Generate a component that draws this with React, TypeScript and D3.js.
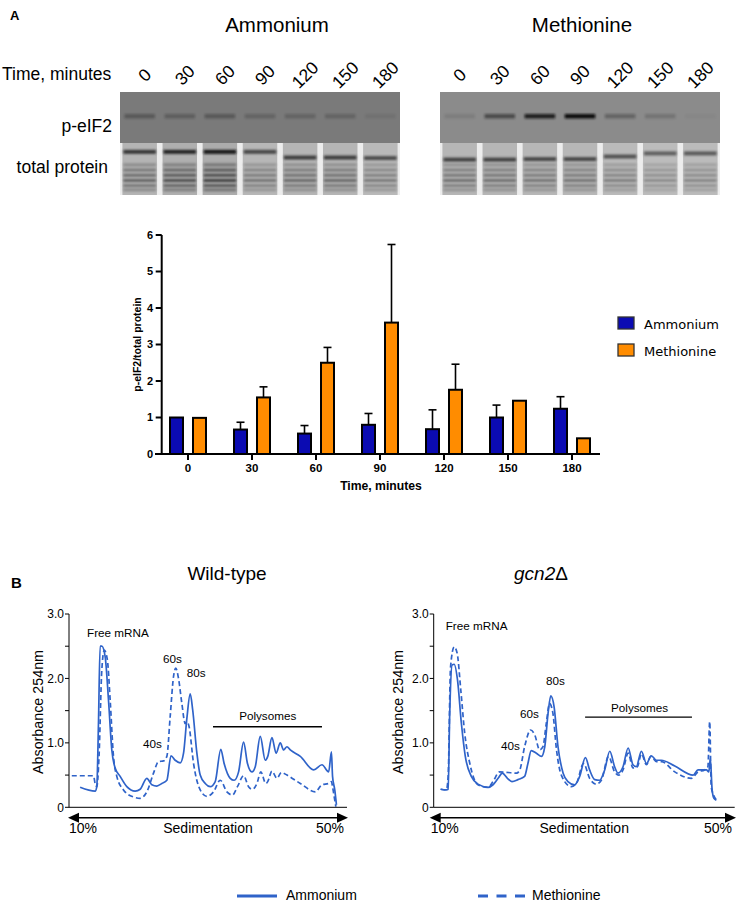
import React from "react";
import * as d3 from "d3";

// ---- panel A data ----
const timePoints = ["0", "30", "60", "90", "120", "150", "180"];
const ammoniumMean = [1.0, 0.67, 0.56, 0.8, 0.68, 1.0, 1.24];
const ammoniumErr = [0, 0.2, 0.22, 0.31, 0.53, 0.34, 0.33];
const methionineMean = [0.99, 1.55, 2.5, 3.6, 1.76, 1.46, 0.43];
const methionineErr = [0, 0.29, 0.42, 2.14, 0.7, 0, 0];
const yTicks = [0, 1, 2, 3, 4, 5, 6];

// blot band intensities (0..1), read by eye
const phosAmmonium = [0.3, 0.25, 0.3, 0.2, 0.2, 0.2, 0.08];
const phosMethionine = [0.1, 0.5, 0.85, 1.0, 0.3, 0.18, 0.03];
const loadAmmonium = [0.65, 0.85, 1.0, 0.5, 0.6, 0.6, 0.45];
const loadMethionine = [0.55, 0.55, 0.5, 0.5, 0.4, 0.28, 0.33];
const shiftAmmonium = [0, 0, 0, 0, 0.11, 0.11, 0.12];
const shiftMethionine = [0.15, 0.15, 0.14, 0.14, 0.09, 0.03, 0.03];
const proteinBandPos = [0.42, 0.52, 0.62, 0.72, 0.82, 0.9];
const proteinBandWeight = [0.35, 0.45, 0.5, 0.55, 0.45, 0.35];

// ---- panel B data: [position along gradient (%), A254] ----
const wtAmmonium: [number, number][] = [
  [4.0, 0.31], [9.4, 0.25], [10.0, 0.32], [10.6, 1.3], [11.2, 2.5], [11.8, 2.5], [13.0, 2.34],
  [14.2, 1.67], [15.4, 0.89], [16.6, 0.61], [18.4, 0.48], [20.8, 0.32], [23.8, 0.25], [25.6, 0.28],
  [28.0, 0.45], [29.8, 0.35], [31.6, 0.33], [33.4, 0.37], [35.2, 0.42], [36.7, 0.8], [38.2, 0.73],
  [40.0, 0.69], [41.2, 0.84], [42.4, 1.38], [43.6, 1.76], [44.5, 1.51], [46.0, 0.84], [47.2, 0.5],
  [49.0, 0.37], [50.8, 0.32], [52.6, 0.4], [54.6, 0.9], [55.8, 0.68], [58.0, 0.45], [59.4, 0.42],
  [61.0, 0.55], [62.8, 1.01], [64.2, 0.68], [65.8, 0.55], [67.0, 0.63], [68.8, 1.1], [70.6, 0.73],
  [71.5, 0.79], [73.0, 1.08], [74.5, 0.84], [76.0, 1.0], [77.2, 0.89], [78.4, 0.94], [79.6, 0.89],
  [83.2, 0.79], [88.0, 0.58], [91.0, 0.66], [93.4, 0.55], [94.4, 0.86], [94.8, 0.48], [95.6, 0.27],
  [96.2, 0.04],
];
const wtMethionine: [number, number][] = [
  [1.0, 0.49], [8.8, 0.49], [9.4, 0.37], [10.0, 0.32], [10.8, 0.79], [11.8, 2.13], [12.7, 2.44],
  [13.8, 2.29], [14.8, 1.67], [16.0, 0.79], [17.2, 0.48], [19.6, 0.27], [23.2, 0.16], [25.6, 0.14],
  [28.0, 0.24], [30.4, 0.53], [32.2, 0.71], [34.0, 0.72], [35.2, 0.79], [36.4, 1.41], [37.6, 2.03],
  [38.4, 2.16], [39.4, 2.0], [40.6, 1.61], [41.8, 1.3], [42.4, 1.33], [43.2, 1.25], [44.8, 0.68],
  [47.2, 0.27], [49.6, 0.17], [52.0, 0.24], [54.4, 0.42], [56.8, 0.24], [58.8, 0.19], [60.6, 0.32],
  [62.8, 0.49], [64.6, 0.32], [66.0, 0.28], [67.6, 0.37], [69.0, 0.55], [70.8, 0.37], [71.5, 0.4],
  [73.0, 0.56], [74.8, 0.45], [76.4, 0.54], [78.4, 0.5], [83.2, 0.37], [88.6, 0.24], [91.0, 0.35],
  [93.4, 0.37], [94.4, 0.4], [94.8, 0.32], [95.6, 0.11], [96.0, 0.01],
];
const gcnAmmonium: [number, number][] = [
  [2.3, 0.28], [4.2, 0.27], [4.8, 0.28], [5.3, 1.41], [6.1, 2.21], [6.8, 2.22], [7.9, 1.98],
  [9.2, 1.3], [10.5, 0.79], [12.5, 0.48], [14.7, 0.36], [18.1, 0.31], [19.7, 0.35], [21.4, 0.45],
  [22.8, 0.53], [24.5, 0.45], [26.0, 0.4], [28.0, 0.43], [30.2, 0.48], [31.3, 0.68], [32.4, 0.88],
  [34.1, 0.84], [35.8, 0.79], [36.9, 0.94], [38.0, 1.46], [38.9, 1.73], [40.0, 1.56], [41.3, 0.94],
  [43.0, 0.53], [44.6, 0.4], [46.8, 0.35], [48.5, 0.48], [50.4, 0.77], [51.8, 0.58], [53.5, 0.43],
  [55.1, 0.42], [56.8, 0.58], [58.5, 0.87], [60.1, 0.63], [61.2, 0.53], [62.9, 0.63], [64.6, 0.92],
  [66.2, 0.66], [67.3, 0.63], [69.0, 0.87], [70.7, 0.68], [72.3, 0.8], [74.0, 0.73], [75.6, 0.73],
  [80.1, 0.64], [86.2, 0.5], [87.8, 0.58], [88.9, 0.58], [90.6, 0.58], [91.4, 0.55], [91.9, 0.76],
  [92.5, 0.27], [93.1, 0.14], [93.9, 0.11],
];
const gcnMethionine: [number, number][] = [
  [2.3, 0.28], [4.2, 0.27], [4.8, 0.48], [5.6, 2.18], [6.8, 2.49], [7.8, 2.39], [9.0, 1.82],
  [10.3, 1.15], [12.0, 0.68], [14.7, 0.35], [18.1, 0.31], [19.7, 0.4], [21.9, 0.55], [24.7, 0.54],
  [27.5, 0.53], [28.6, 0.58], [30.2, 0.94], [32.2, 1.2], [33.6, 1.12], [35.2, 0.89], [36.3, 0.94],
  [37.4, 1.3], [38.5, 1.61], [39.6, 1.46], [40.8, 0.89], [42.4, 0.5], [45.7, 0.32], [47.4, 0.37],
  [49.8, 0.68], [51.8, 0.45], [54.0, 0.36], [55.7, 0.42], [58.1, 0.79], [60.1, 0.55], [61.5, 0.5],
  [62.9, 0.58], [64.6, 0.84], [66.2, 0.61], [67.7, 0.63], [69.0, 0.83], [70.7, 0.66], [72.1, 0.79],
  [74.0, 0.71], [75.6, 0.71], [80.1, 0.55], [85.6, 0.45], [87.8, 0.55], [90.0, 0.58], [91.1, 0.63],
  [91.7, 1.33], [92.2, 0.32], [93.0, 0.19], [94.5, 0.09],
];

// peak labels [text, x %, A254 baseline]
const wtNotes: [string, number, number][] = [
  ["Free mRNA", 6.5, 2.64], ["60s", 33.8, 2.24], ["80s", 42.4, 2.02], ["40s", 26.6, 0.92], ["Polysomes", 61.2, 1.36],
];
const gcnNotes: [string, number, number][] = [
  ["Free mRNA", 4.0, 2.75], ["80s", 37.3, 1.9], ["60s", 28.7, 1.39], ["40s", 22.4, 0.89], ["Polysomes", 58.9, 1.48],
];
const wtPolyBar = [51.8, 91.0, 1.25];
const gcnPolyBar = [50.3, 85.8, 1.4];

const BLUE = "#0b0bb2";
const ORANGE = "#ff8c00";
const TRACE = "#2f63c9";
const SANS = "'Liberation Sans', Arial, sans-serif";

function Blot({ x0, x1, phosBg, phos, load, shift, labelDx }) {
  const top = 92, mid = 143, bottom = 195;
  const lanes = d3.scaleBand<string>().domain(timePoints).range([x0, x1]).paddingInner(0.14).paddingOuter(0.06);
  const h = bottom - mid;
  const ink = d3.interpolateRgb("#d2d2d2", "#141414");
  return (
    <g>
      <rect x={x0} y={top} width={x1 - x0} height={mid - top} fill={phosBg} />
      {timePoints.map((t, i) => (
        <rect key={"p" + t} x={lanes(t)! + 2} y={114} width={lanes.bandwidth() - 4} height={4.5}
          fill="#111" opacity={phos[i]} filter="url(#soft)" />
      ))}
      <rect x={x0} y={mid} width={x1 - x0} height={h} fill="#ededed" />
      {timePoints.map((t, i) => {
        const lx = lanes(t)!;
        const w = lanes.bandwidth();
        return (
          <g key={"t" + t}>
            <rect x={lx} y={mid} width={w} height={h} fill={ink(0.08 + 0.12 * load[i])} />
            <rect x={lx + 1} y={mid + h * (0.17 + shift[i]) - 2} width={w - 2} height={4}
              fill={ink(0.45 + 0.55 * load[i])} filter="url(#soft)" />
            {proteinBandPos.map((p, k) => (
              <rect key={k} x={lx + 1} y={mid + h * p - 1.5} width={w - 2} height={3}
                fill={ink(Math.min(1, proteinBandWeight[k] * (0.4 + load[i])))} filter="url(#soft)" />
            ))}
          </g>
        );
      })}
      {timePoints.map((t) => {
        const cx = lanes(t)! + lanes.bandwidth() / 2 + labelDx;
        return (
          <text key={"l" + t} transform={`translate(${cx},75) rotate(-45)`} textAnchor="middle"
            dominantBaseline="central" fontSize={17.5} fontFamily={SANS}>{t}</text>
        );
      })}
    </g>
  );
}

function BarChart() {
  const x = d3.scaleBand<string>().domain(timePoints).range([156, 604]);
  const y = d3.scaleLinear().domain([0, 6]).range([454, 235]);
  const axisX = 161.7;
  const bw = 13;
  const series = [
    { name: "Ammonium", color: BLUE, mean: ammoniumMean, err: ammoniumErr, dx: -11.5 },
    { name: "Methionine", color: ORANGE, mean: methionineMean, err: methionineErr, dx: 11.5 },
  ];
  return (
    <g fontFamily={SANS}>
      {series.map((s) =>
        timePoints.map((t, i) => {
          const cx = x(t)! + x.bandwidth() / 2 + s.dx;
          const top = y(s.mean[i]);
          const hi = y(s.mean[i] + s.err[i]);
          return (
            <g key={s.name + t}>
              {s.err[i] > 0 && (
                <>
                  <line x1={cx} x2={cx} y1={top} y2={hi} stroke="#000" strokeWidth={1.6} />
                  <line x1={cx - 4} x2={cx + 4} y1={hi} y2={hi} stroke="#000" strokeWidth={1.6} />
                </>
              )}
              <rect x={cx - bw / 2} y={top} width={bw} height={y(0) - top} fill={s.color} stroke="#000" strokeWidth={2} />
            </g>
          );
        })
      )}
      <line x1={axisX} x2={axisX} y1={y(6)} y2={y(0)} stroke="#000" strokeWidth={2} />
      <line x1={155} x2={600} y1={y(0)} y2={y(0)} stroke="#000" strokeWidth={2} />
      {yTicks.map((t) => (
        <g key={t}>
          <line x1={axisX - 6} x2={axisX} y1={y(t)} y2={y(t)} stroke="#000" strokeWidth={2} />
          <text x={153} y={y(t)} dy="0.36em" textAnchor="end" fontSize={11} fontWeight="bold">{t}</text>
        </g>
      ))}
      {timePoints.map((t) => {
        const cx = x(t)! + x.bandwidth() / 2;
        return (
          <g key={t}>
            <line x1={cx} x2={cx} y1={y(0)} y2={y(0) + 6} stroke="#000" strokeWidth={2} />
            <text x={cx} y={472} textAnchor="middle" fontSize={11.5} fontWeight="bold">{t}</text>
          </g>
        );
      })}
      <text transform={`translate(141,${(y(0) + y(6)) / 2}) rotate(-90)`} textAnchor="middle" fontSize={10.5} fontWeight="bold">
        p-eIF2/total protein
      </text>
      <text x={381} y={490} textAnchor="middle" fontSize={12.2} fontWeight="bold">Time, minutes</text>
      {series.map((s, i) => (
        <g key={s.name} transform={`translate(618,${317 + i * 27})`}>
          <rect width={16} height={12} fill={s.color} stroke="#333" strokeWidth={1.3} />
          <text x={26} y={11.5} fontSize={13} fontFamily="'DejaVu Sans', Verdana, sans-serif">{s.name}</text>
        </g>
      ))}
    </g>
  );
}

function Profile({ x0, x1, a0, a1, solid, dashed, notes, poly, labelX, title, titleX, italic }) {
  const x = d3.scaleLinear().domain([0, 100]).range([x0, x1]);
  const y = d3.scaleLinear().domain([0, 3]).range([807.3, 614]);
  const line = d3.line<[number, number]>().x((d) => x(d[0])).y((d) => y(d[1])).curve(d3.curveMonotoneX);
  const minor = d3.range(0, 3.01, 0.5);
  const ay = 817.7;
  return (
    <g fontFamily={SANS}>
      {italic ? (
        <text x={titleX} y={580} textAnchor="middle" fontSize={19}>
          <tspan fontStyle="italic">{title}</tspan>Δ
        </text>
      ) : (
        <text x={titleX} y={580} textAnchor="middle" fontSize={19}>{title}</text>
      )}
      <path d={line(dashed)!} fill="none" stroke={TRACE} strokeWidth={1.7} strokeDasharray="5,3" />
      <path d={line(solid)!} fill="none" stroke={TRACE} strokeWidth={1.7} />
      <line x1={x0} x2={x0} y1={y(3)} y2={y(0)} stroke="#000" strokeWidth={1} />
      <line x1={x0} x2={x1} y1={y(0)} y2={y(0)} stroke="#000" strokeWidth={1} />
      {minor.map((t) => (
        <line key={t} x1={x0 - 4} x2={x0} y1={y(t)} y2={y(t)} stroke="#000" strokeWidth={1} />
      ))}
      {[0, 1, 2, 3].map((t) => (
        <text key={t} x={x0 - 5} y={y(t)} dy="0.36em" textAnchor="end" fontSize={12}>
          {t === 0 ? "0" : t.toFixed(1)}
        </text>
      ))}
      <text transform={`translate(${labelX},712) rotate(-90)`} textAnchor="middle" fontSize={14.3}>Absorbance 254nm</text>
      {notes.map(([s, nx, ny]) => (
        <text key={s} x={x(nx)} y={y(ny)} fontSize={11.7}>{s}</text>
      ))}
      <line x1={x(poly[0])} x2={x(poly[1])} y1={y(poly[2])} y2={y(poly[2])} stroke="#000" strokeWidth={1.3} />
      <line x1={a0 + 8} x2={a1 - 8} y1={ay} y2={ay} stroke="#000" strokeWidth={1.6} />
      <path d={`M${a0},${ay}L${a0 + 11},${ay - 5}L${a0 + 11},${ay + 5}Z`} fill="#000" />
      <path d={`M${a1},${ay}L${a1 - 11},${ay - 5}L${a1 - 11},${ay + 5}Z`} fill="#000" />
      <text x={a0 + 1} y={833} fontSize={14}>10%</text>
      <text x={(x0 + x1) / 2} y={833} textAnchor="middle" fontSize={14}>Sedimentation</text>
      <text x={a1 - 4} y={833} textAnchor="end" fontSize={14}>50%</text>
    </g>
  );
}

export default function App() {
  return (
    <svg width={738} height={903} style={{ position: "absolute", left: 0, top: 0, background: "#fff" }}>
      <defs>
        <filter id="soft" x="-10%" y="-150%" width="120%" height="400%">
          <feGaussianBlur stdDeviation="0.9" />
        </filter>
      </defs>
      <rect width={738} height={903} fill="#fff" />
      <g fontFamily={SANS}>
        <text x={10} y={20} fontSize={13} fontWeight="bold">A</text>
        <text x={277} y={32} textAnchor="middle" fontSize={20.5}>Ammonium</text>
        <text x={582} y={32} textAnchor="middle" fontSize={20.5}>Methionine</text>
        <text x={2} y={80} fontSize={17.5}>Time, minutes</text>
        <text x={112} y={132} textAnchor="end" fontSize={17.5}>p-eIF2</text>
        <text x={108} y={173} textAnchor="end" fontSize={17.5}>total protein</text>
      </g>
      <Blot x0={120} x1={400} phosBg="#7a7a7a" phos={phosAmmonium} load={loadAmmonium} shift={shiftAmmonium} labelDx={5} />
      <Blot x0={440} x1={720} phosBg="#8b8b8b" phos={phosMethionine} load={loadMethionine} shift={shiftMethionine} labelDx={0} />
      <BarChart />
      <text x={11} y={588} fontSize={15} fontWeight="bold" fontFamily={SANS}>B</text>
      <Profile x0={69} x1={347} a0={68} a1={348} solid={wtAmmonium} dashed={wtMethionine} notes={wtNotes}
        poly={wtPolyBar} labelX={43} title="Wild-type" titleX={227} italic={false} />
      <Profile x0={433.7} x1={734.7} a0={429.7} a1={736} solid={gcnAmmonium} dashed={gcnMethionine} notes={gcnNotes}
        poly={gcnPolyBar} labelX={403} title="gcn2" titleX={541} italic={true} />
      <g fontFamily={SANS}>
        <line x1={237} x2={277} y1={896} y2={896} stroke={TRACE} strokeWidth={3} />
        <text x={286} y={900} fontSize={14}>Ammonium</text>
        <line x1={478} x2={525} y1={896} y2={896} stroke={TRACE} strokeWidth={3} strokeDasharray="10,8.5" />
        <text x={532} y={900} fontSize={14}>Methionine</text>
      </g>
    </svg>
  );
}
